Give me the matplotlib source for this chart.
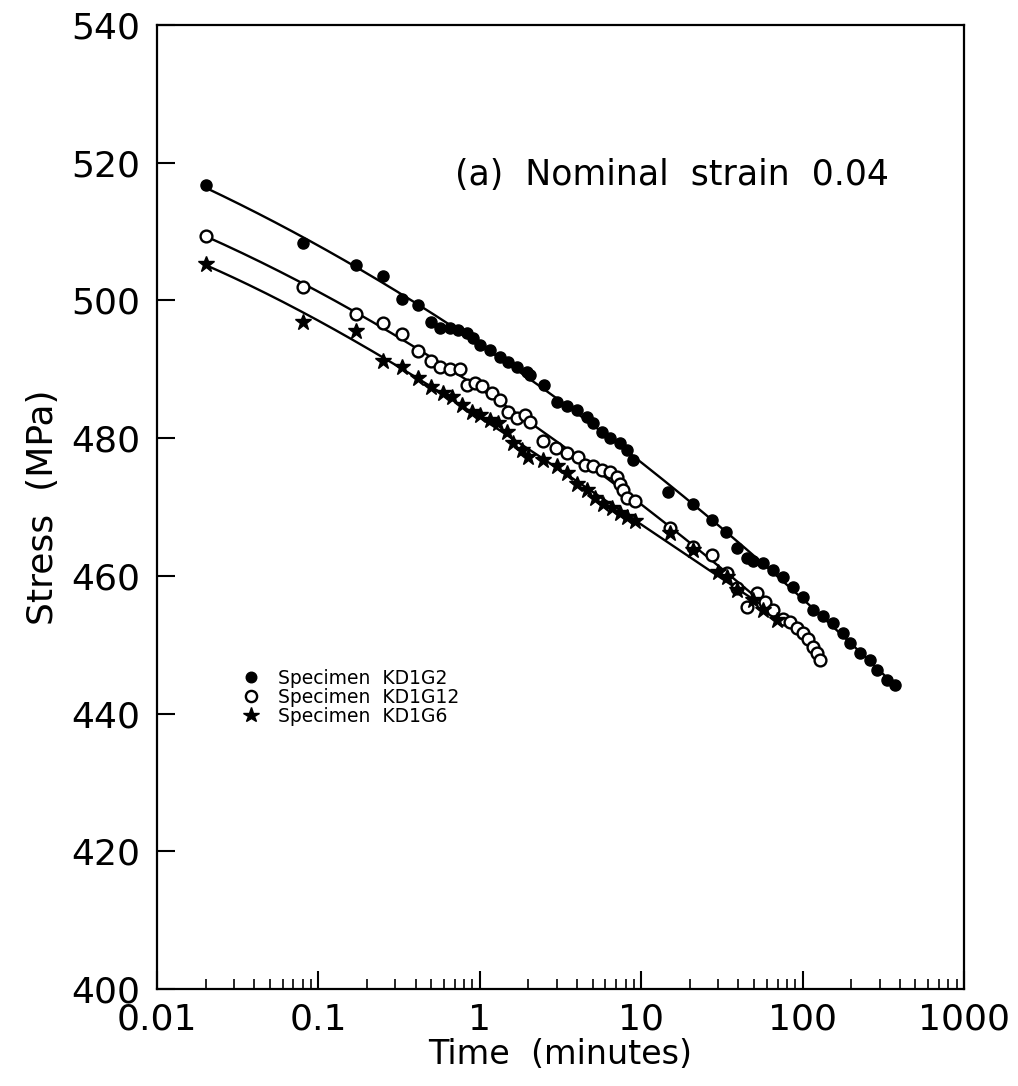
import numpy as np
import matplotlib.pyplot as plt
from matplotlib.ticker import LogLocator, NullFormatter, FixedLocator

plt.rcParams['font.family'] = ['DejaVu Sans']

# Specimen KD1G2 (filled circles)
t_g2 = [0.020, 0.080, 0.171, 0.252, 0.331, 0.416, 0.499, 0.567, 0.654, 0.736,
        0.829, 0.912, 1.00, 1.16, 1.33, 1.50, 1.69, 1.95, 2.05, 2.50,
        2.99, 3.45, 3.98, 4.59, 5.05, 5.69, 6.41, 7.39, 8.13, 8.93,
        14.7, 21.0, 27.3, 33.5, 39.1, 45.1, 49.5, 57.1, 65.8, 75.9,
        87.5, 101, 116, 134, 155, 179, 197, 227, 262, 288, 332, 373]
s_g2 = [516.8, 508.4, 505.1, 503.6, 500.2, 499.4, 496.9, 496.0, 496.0, 495.7,
        495.2, 494.5, 493.5, 492.8, 491.8, 491.1, 490.4, 489.65, 489.2, 487.7,
        485.3, 484.6, 484.1, 483.1, 482.2, 480.9, 480.0, 479.25, 478.3, 476.8,
        472.2, 470.5, 468.1, 466.4, 464.0, 462.55, 462.1, 461.8, 460.9, 459.9,
        458.4, 457.0, 455.0, 454.1, 453.1, 451.7, 450.2, 448.8, 447.8, 446.3, 444.9, 444.15]

# Specimen KD1G12 (open circles)
t_g12 = [0.020, 0.080, 0.171, 0.252, 0.331, 0.416, 0.499, 0.567, 0.654, 0.754,
         0.829, 0.934, 1.03, 1.19, 1.33, 1.50, 1.69, 1.905, 2.05, 2.47,
         2.97, 3.45, 4.08, 4.48, 5.05, 5.69, 6.41, 7.05, 7.39, 7.74,
         8.13, 9.16, 15.1, 21.0, 27.3, 33.9, 39.1, 45.1, 52.0, 58.5,
         65.8, 75.9, 83.6, 91.9, 101, 108, 116, 122, 128]
s_g12 = [509.4, 502.0, 498.1, 496.7, 495.1, 492.6, 491.2, 490.4, 490.1, 490.0,
         487.7, 488.0, 487.5, 486.5, 485.5, 483.8, 482.9, 483.4, 482.4, 479.6,
         478.5, 477.8, 477.3, 476.1, 475.9, 475.4, 475.1, 474.4, 473.4, 472.5,
         471.3, 470.8, 466.9, 464.2, 463.0, 460.4, 458.2, 455.5, 457.5, 456.25,
         455.0, 453.8, 453.35, 452.4, 451.7, 450.9, 449.7, 448.8, 447.8]

# Specimen KD1G6 (stars)
t_g6 = [0.020, 0.080, 0.171, 0.252, 0.331, 0.416, 0.499, 0.594, 0.670, 0.773,
        0.891, 1.00, 1.16, 1.30, 1.47, 1.61, 1.82, 2.0, 2.47, 2.99,
        3.45, 3.98, 4.59, 5.17, 5.82, 6.56, 7.39, 8.13, 9.16, 15.1,
        21.0, 30.1, 33.9, 39.1, 49.5, 57.1, 69.1]
s_g6 = [505.3, 496.9, 495.5, 491.25, 490.3, 488.7, 487.4, 486.5, 486.0, 484.8,
        483.8, 483.4, 482.6, 482.2, 480.9, 479.25, 478.3, 477.3, 476.8, 475.9,
        474.9, 473.4, 472.5, 471.3, 470.5, 469.8, 469.1, 468.6, 467.9, 466.2,
        463.8, 460.6, 459.9, 457.95, 456.5, 455.0, 453.6]

labels = ["Specimen  KD1G2", "Specimen  KD1G12", "Specimen  KD1G6"]

fig = plt.figure(figsize=(10.18, 10.86), dpi=100)
ax = fig.add_axes([0.1542, 0.0893, 0.7928, 0.8877])

series = [(t_g2, s_g2, dict(marker='o', mfc='black', mec='black', ms=8)),
          (t_g12, s_g12, dict(marker='o', mfc='white', mec='black', mew=1.7, ms=8.5)),
          (t_g6, s_g6, dict(marker='*', mfc='black', mec='black', ms=12))]

# fitted curve (cubic in log time) drawn under the points
for (t, s, st), lab in zip(series, labels):
    t = np.array(t)
    s = np.array(s)
    p = np.polyfit(np.log10(t), s, 3)
    tt = np.logspace(np.log10(t.min()), np.log10(t.max()), 200)
    ax.plot(tt, np.polyval(p, np.log10(tt)), color='black', lw=1.7, zorder=2)
    ax.plot(t, s, linestyle='None', label=lab, zorder=3, **st)

ax.set_xscale('log')
ax.set_xlim(0.01, 1000)
ax.set_ylim(400, 540)
ax.xaxis.set_major_locator(FixedLocator([0.01, 0.1, 1, 10, 100, 1000]))
ax.xaxis.set_minor_locator(LogLocator(base=10, subs=np.arange(2, 10)))
ax.xaxis.set_minor_formatter(NullFormatter())
ax.set_xticklabels(["0.01", "0.1", "1", "10", "100", "1000"])
ax.set_yticks(np.arange(400, 541, 20))

ax.tick_params(axis='both', which='major', direction='in', length=13, width=1.5,
               labelsize=26, top=False, right=False)
ax.tick_params(axis='x', which='minor', direction='in', length=7, width=1.2, top=False)
ax.tick_params(axis='x', which='major', pad=10)
ax.tick_params(axis='y', which='major', pad=12)
for sp in ax.spines.values():
    sp.set_linewidth(1.6)

ax.set_xlabel("Time  (minutes)", fontsize=24, labelpad=1)
ax.set_ylabel("Stress  (MPa)", fontsize=26, labelpad=8)

ax.text(0.369, 0.844, "(a)  Nominal  strain  0.04", transform=ax.transAxes,
        fontsize=25, va='center', ha='left')

ax.legend(loc='upper left', bbox_to_anchor=(0.105, 0.332), frameon=False,
          fontsize=13.5, handlelength=1.0, handletextpad=0.95, labelspacing=0.0,
          borderpad=0, borderaxespad=0, markerscale=0.95)

fig.savefig("out.png", dpi=100)
